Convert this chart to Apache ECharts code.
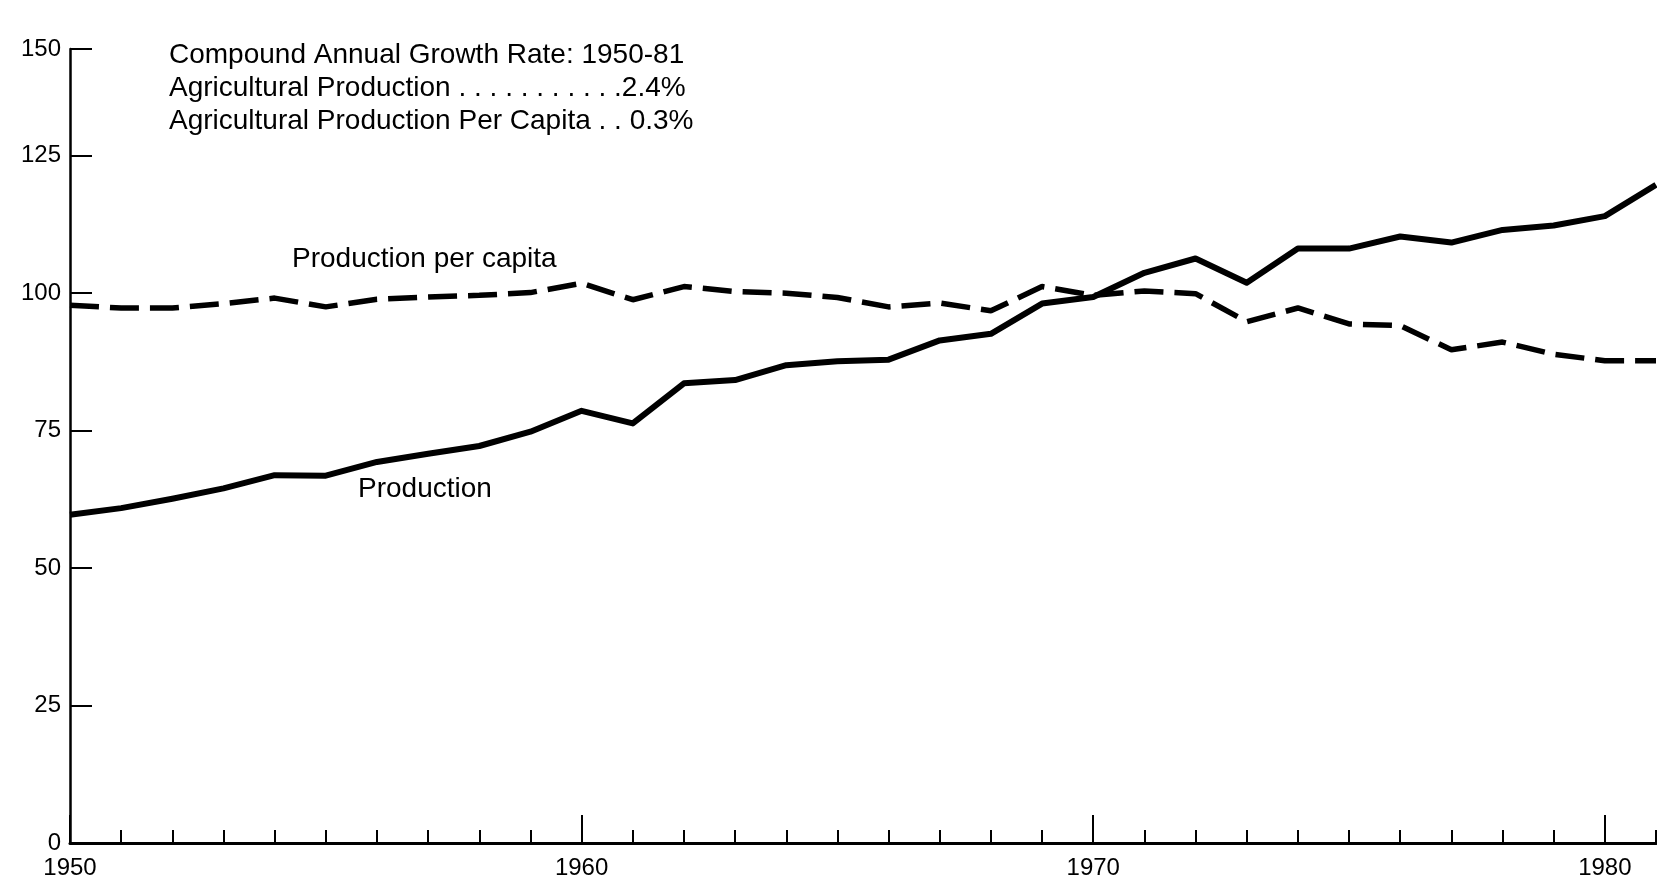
<!DOCTYPE html>
<html>
<head>
<meta charset="utf-8">
<script src="https://cdn.jsdelivr.net/npm/echarts@6/dist/echarts.min.js"></script>
<style>
  html, body { margin: 0; padding: 0; background: #fff; }
  #chart { width: 1657px; height: 884px; }
</style>
</head>
<body>
<div id="chart"></div>
<script>
// ---- data ----
var years = [1950,1951,1952,1953,1954,1955,1956,1957,1958,1959,
             1960,1961,1962,1963,1964,1965,1966,1967,1968,1969,
             1970,1971,1972,1973,1974,1975,1976,1977,1978,1979,
             1980,1981];
var production = [59.7,60.9,62.6,64.5,66.9,66.8,69.3,70.8,72.2,74.8,
                  78.6,76.3,83.6,84.2,86.9,87.6,87.9,91.4,92.6,98.1,
                  99.3,103.7,106.3,101.9,108.1,108.1,110.3,109.2,111.5,112.3,
                  114.0,119.7];
var productionPerCapita = [97.8,97.3,97.3,98.1,99.1,97.5,98.9,99.3,99.6,100.1,
                           101.8,98.8,101.2,100.3,100.0,99.2,97.5,98.2,96.8,101.2,
                           99.6,100.4,99.9,94.8,97.3,94.4,94.1,89.7,91.1,88.9,
                           87.7,87.7];
var decadeYears = [1950,1960,1970,1980];
var yTickValues = [0,25,50,75,100,125];
var yTickLabels = ['0','25','50','75','100','125','150'];
var yAxisTop = 144.4; // top of the drawn axis, labelled "150" in the source
var noteLines = [
  'Compound Annual Growth Rate: 1950-81',
  'Agricultural Production . . . . . . . . . . .2.4%',
  'Agricultural Production Per Capita . . 0.3%'
];
var seriesNames = ['Production', 'Production per capita'];

// ---- build ----
var minorYears = years.filter(function (y) { return decadeYears.indexOf(y) < 0; });
var yAll = yTickValues.concat([yAxisTop]);
function pairs(vals) { return years.map(function (y, i) { return [y, vals[i]]; }); }

var FONT = 'Liberation Sans, Arial, Helvetica, sans-serif';
var TEXT_FONT = '28px ' + FONT;
var chart = echarts.init(document.getElementById('chart'), null, { renderer: 'canvas' });

function label(text, x, y) {
  return { type: 'text', x: x, y: y,
           style: { text: text, font: TEXT_FONT, fill: '#000', align: 'left', verticalAlign: 'middle' } };
}

var option = {
  animation: false,
  backgroundColor: '#fff',
  grid: { left: 70, right: 1, top: 49, bottom: 41 },
  xAxis: [
    {
      type: 'value', min: 1950, max: 1981, position: 'bottom',
      axisLine: { show: true, lineStyle: { color: '#000', width: 3 } },
      axisTick: { show: true, inside: true, length: 13, customValues: minorYears,
                  lineStyle: { color: '#000', width: 2 } },
      axisLabel: { show: false },
      splitLine: { show: false }
    },
    {
      type: 'value', min: 1950, max: 1981, position: 'bottom',
      axisLine: { show: false },
      axisTick: { show: true, inside: true, length: 28, customValues: decadeYears,
                  lineStyle: { color: '#000', width: 2 } },
      axisLabel: { show: true, customValues: decadeYears, color: '#000',
                   fontFamily: FONT, fontSize: 24, margin: 13,
                   formatter: function (v) { return String(v); } },
      splitLine: { show: false }
    }
  ],
  yAxis: {
    type: 'value', min: 0, max: yAxisTop,
    axisLine: { show: true, lineStyle: { color: '#000', width: 2.5 } },
    axisTick: { show: true, inside: true, length: 22, customValues: yAll.slice(1),
                lineStyle: { color: '#000', width: 2 } },
    axisLabel: { show: true, customValues: yAll, color: '#000',
                 fontFamily: FONT, fontSize: 24, margin: 9,
                 formatter: function (v) {
                   var i = yAll.indexOf(v);
                   return i >= 0 ? yTickLabels[i] : '';
                 } },
    splitLine: { show: false }
  },
  series: [
    {
      name: seriesNames[0], type: 'line', xAxisIndex: 0, showSymbol: false,
      data: pairs(production),
      lineStyle: { color: '#000', width: 6, join: 'round' }
    },
    {
      name: seriesNames[1], type: 'line', xAxisIndex: 0, showSymbol: false,
      data: pairs(productionPerCapita),
      lineStyle: { color: '#000', width: 5.5, type: [29, 11] }
    }
  ],
  graphic: [
    label(noteLines[0], 169, 55),
    label(noteLines[1], 169, 88),
    label(noteLines[2], 169, 121),
    label(seriesNames[1], 292, 259),
    label(seriesNames[0], 358, 489)
  ]
};
chart.setOption(option);
</script>
</body>
</html>
